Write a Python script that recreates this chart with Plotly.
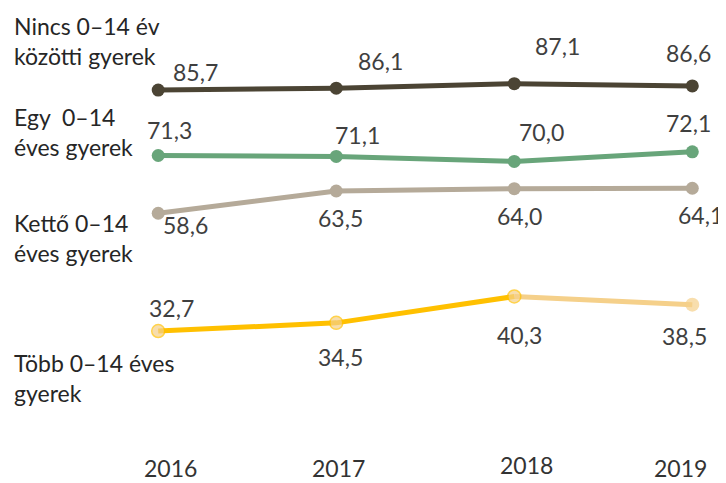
import plotly.graph_objects as go

years = [2016, 2017, 2018, 2019]
year_labels = ["2016", "2017", "2018", "2019"]

series_names = [
    "Nincs 0–14 év<br>közötti gyerek",
    "Egy  0–14<br>éves gyerek",
    "Kettő 0–14<br>éves gyerek",
    "Több 0–14 éves<br>gyerek",
]
nincs = [85.7, 86.1, 87.1, 86.6]
egy = [71.3, 71.1, 70.0, 72.1]
ketto = [58.6, 63.5, 64.0, 64.1]
tobb = [32.7, 34.5, 40.3, 38.5]

# ---- styling / layout (not data) ----
OFF = 8  # page body margin
W, H = 726 - OFF, 483 - OFF
L, R, T, B = 87 - OFF, 7, 25 - OFF, 26
YR = [5, 100]
XR = [2015.6, 2019.15]
PH = H - T - B

c_dark = "#4B4434"
c_green = "#68A57A"
c_grey = "#B5AA99"
c_yel = "#FFC000"
c_yel_l = "#F5D08A"
txt = "#3F3F3F"
FONT = "Lato"

label_offsets = [
    [(37, -18), (44, -27), (43, -38), (-4, -33)],
    [(11, -26), (21, -21), (27, -29), (-4, -29)],
    [(27, 12), (4, 27), (5, 27), (8, 27)],
    [(13, -23), (4, 34), (5, 39), (-8, 31)],
]
name_centers_px = [41, 131.5, 238, 378]
year_shift = [(12, 0), (2, 0), (12, 3), (-12, 0)]


def py_to_paper(py):
    return (H - B - (py - OFF)) / PH


def px_to_paper(px):
    return ((px - OFF) - L) / (W - L - R)


fig = go.Figure()

for vals, col in [(nincs, c_dark), (egy, c_green), (ketto, c_grey)]:
    fig.add_trace(go.Scatter(
        x=years, y=vals, mode="lines+markers",
        line=dict(color=col, width=5),
        marker=dict(color=col, size=13),
        hoverinfo="skip", showlegend=False,
    ))

# Több: light segment last year, dark segments before
fig.add_trace(go.Scatter(
    x=years[2:], y=tobb[2:], mode="lines",
    line=dict(color=c_yel_l, width=5), hoverinfo="skip", showlegend=False,
))
fig.add_trace(go.Scatter(
    x=years[:3], y=tobb[:3], mode="lines",
    line=dict(color=c_yel, width=5), hoverinfo="skip", showlegend=False,
))
fig.add_trace(go.Scatter(
    x=years, y=tobb, mode="markers",
    marker=dict(color=c_yel_l, size=[13, 13, 13, 14],
                line=dict(color=[c_yel, c_yel, c_yel, c_yel_l], width=[1.5, 1.5, 1.5, 0])),
    hoverinfo="skip", showlegend=False,
))

annotations = []
for vals, offs in zip([nincs, egy, ketto, tobb], label_offsets):
    for x, v, (dx, dy) in zip(years, vals, offs):
        annotations.append(dict(
            x=x, y=v, xref="x", yref="y",
            text=f"{v:.1f}".replace(".", ","), showarrow=False,
            xanchor="center", yanchor="middle",
            xshift=dx, yshift=-dy, borderpad=0,
            font=dict(family=FONT, size=23, color=txt),
        ))

for name, cy in zip(series_names, name_centers_px):
    annotations.append(dict(
        x=px_to_paper(12), y=py_to_paper(cy), xref="paper", yref="paper",
        text=name, showarrow=False, align="left",
        xanchor="left", yanchor="middle",
        font=dict(family=FONT, size=23, color="#262626"),
    ))

for x, lab, (dx, dy) in zip(years, year_labels, year_shift):
    annotations.append(dict(
        x=x, y=py_to_paper(483), xref="x", yref="paper",
        text=lab, showarrow=False, xanchor="center", yanchor="bottom",
        xshift=dx, yshift=dy, borderpad=0,
        font=dict(family=FONT, size=23, color="#333333"),
    ))

fig.update_layout(
    width=W, height=H,
    margin=dict(l=L, r=R, t=T, b=B),
    paper_bgcolor="white", plot_bgcolor="white",
    xaxis=dict(range=XR, visible=False, fixedrange=True),
    yaxis=dict(range=YR, visible=False, fixedrange=True),
    annotations=annotations,
    showlegend=False,
)

fig.write_html("out.html", config={"displayModeBar": False})
